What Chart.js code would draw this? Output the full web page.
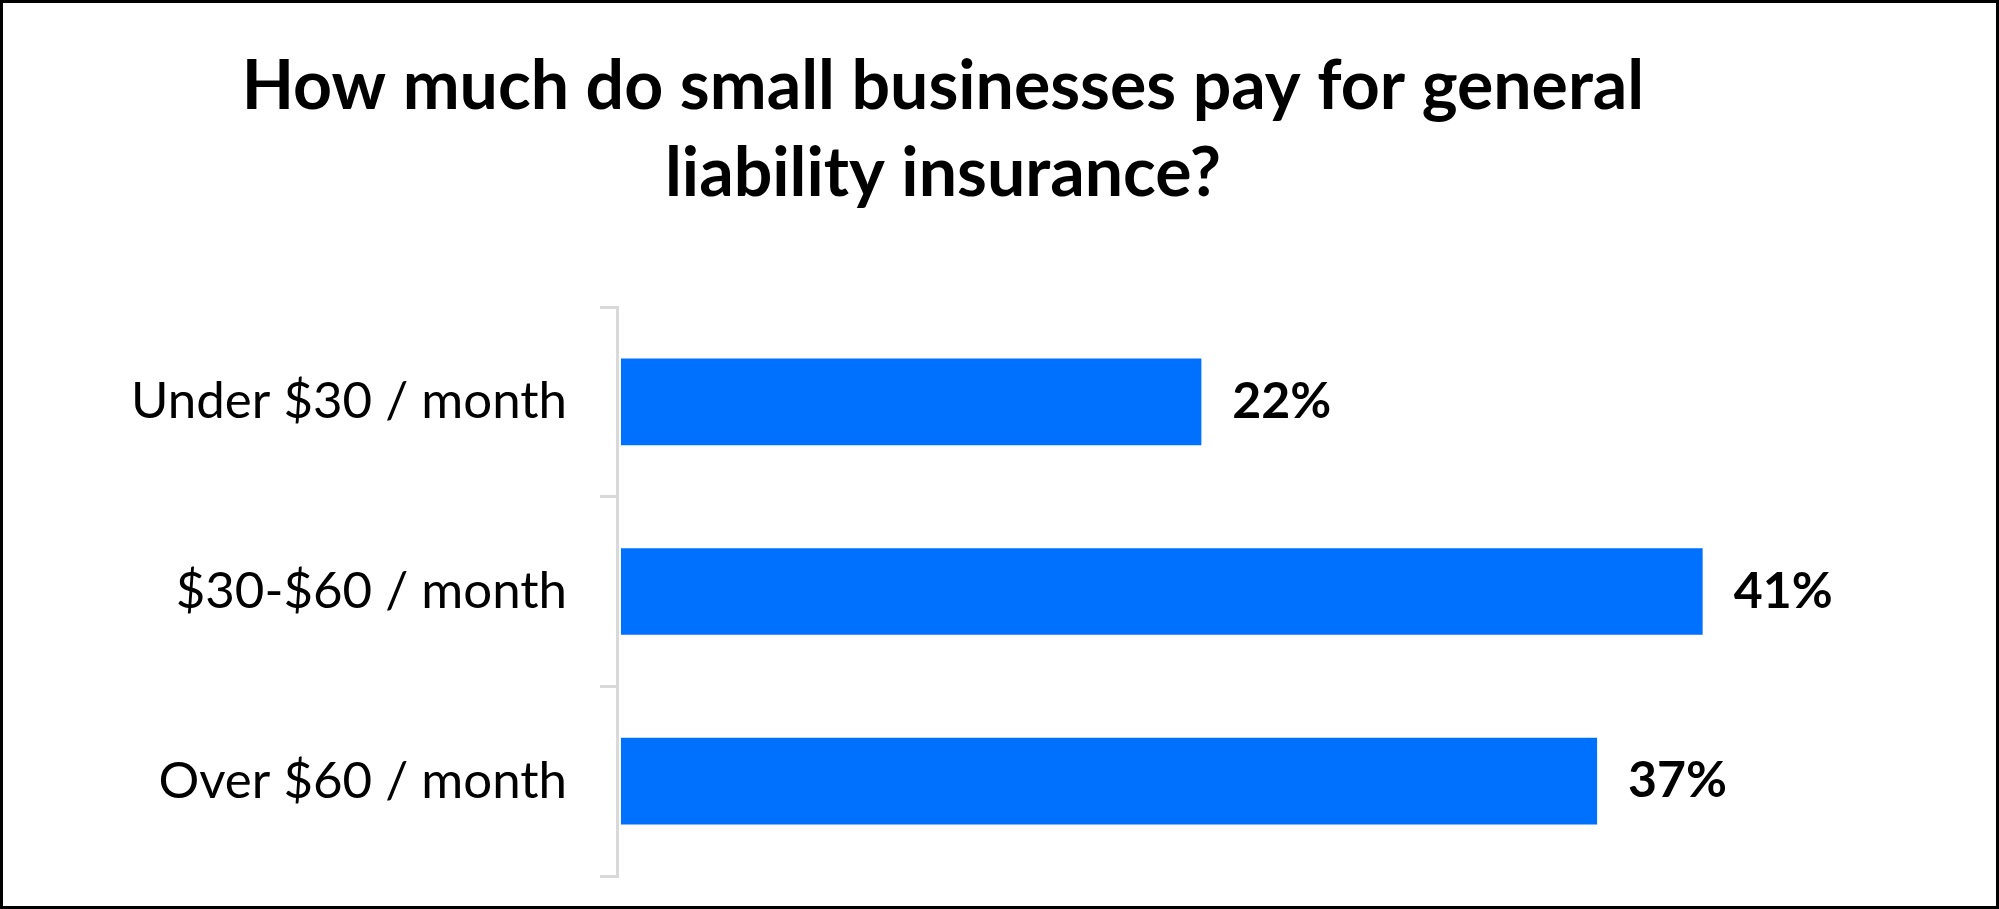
<!DOCTYPE html>
<html>
<head>
<meta charset="utf-8">
<script src="https://cdn.jsdelivr.net/npm/chart.js@4.4.1/dist/chart.umd.min.js"></script>
<style>
  html, body { margin: 0; padding: 0; background: #fff; }
  #wrap { width: 1999px; height: 909px; }
</style>
</head>
<body>
<div id="wrap"><canvas id="chart" width="1999" height="909"></canvas></div>
<script>
const categories = ['Under $30 / month', '$30-$60 / month', 'Over $60 / month'];
const shares = [22, 41, 37];
const titleLines = ['How much do small businesses pay for general', 'liability insurance?'];

const FONT = "Lato, 'Open Sans', sans-serif";

// value labels at the end of each bar
const barValues = {
  id: 'barValues',
  afterDatasetsDraw(chart) {
    const ctx = chart.ctx;
    const meta = chart.getDatasetMeta(0);
    ctx.save();
    ctx.font = `bold 50px ${FONT}`;
    ctx.fillStyle = '#000';
    ctx.textAlign = 'left';
    ctx.textBaseline = 'middle';
    meta.data.forEach((bar, i) => {
      ctx.fillText(shares[i] + '%', bar.x + 31, bar.y);
    });
    ctx.restore();
  }
};

// black frame round the whole picture
const frame = {
  id: 'frame',
  afterDraw(chart) {
    const ctx = chart.ctx;
    ctx.save();
    ctx.strokeStyle = '#000';
    ctx.lineWidth = 3;
    ctx.strokeRect(1.5, 1.5, chart.width - 3, chart.height - 3);
    ctx.restore();
  }
};

new Chart(document.getElementById('chart').getContext('2d'), {
  type: 'bar',
  data: {
    labels: categories,
    datasets: [{
      data: shares,
      backgroundColor: '#0070FF',
      borderWidth: 0,
      categoryPercentage: 1,
      barPercentage: 0.457
    }]
  },
  plugins: [barValues, frame],
  options: {
    indexAxis: 'y',
    responsive: false,
    devicePixelRatio: 1,
    animation: false,
    layout: { padding: { left: 0, right: 113, top: 0, bottom: 33 } },
    plugins: {
      legend: { display: false },
      tooltip: { enabled: false },
      title: {
        display: true,
        text: titleLines,
        color: '#000',
        font: { family: FONT, size: 68, weight: 'bold', lineHeight: 1.28 },
        padding: { top: 44, bottom: 89 }
      }
    },
    scales: {
      x: { display: false, min: -0.15, max: 47.95 },
      y: {
        afterFit(scale) {
          scale.width = 617;
          scale.paddingTop = 0;
          scale.paddingBottom = 0;
        },
        grid: {
          display: true,
          drawOnChartArea: false,
          drawTicks: true,
          tickLength: 17,
          color: '#D9D9D9',
          lineWidth: 3,
          offset: true
        },
        border: { display: true, color: '#D9D9D9', width: 3 },
        ticks: {
          color: '#000',
          padding: 33,
          font: { family: FONT, size: 51 }
        }
      }
    }
  }
});
</script>
</body>
</html>
